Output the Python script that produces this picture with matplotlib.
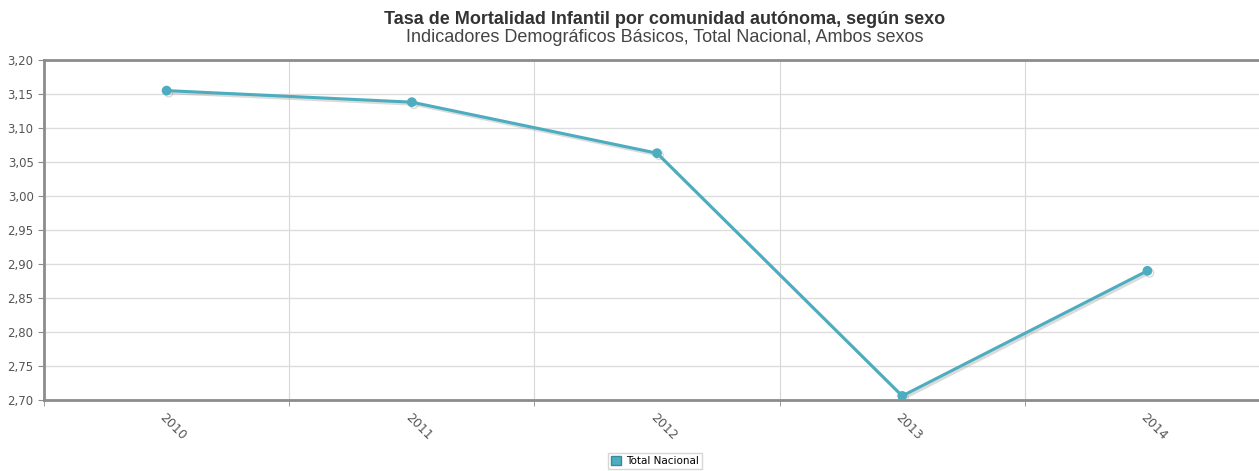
import numpy as np
import matplotlib.pyplot as plt
import matplotlib.patheffects as pe
from matplotlib.ticker import FixedLocator, FuncFormatter

# datos
years = ['2010', '2011', '2012', '2013', '2014']
total_nacional = [3.155, 3.138, 3.063, 2.706, 2.890]

line_color = '#4badbf'
axis_color = '#8c8c8c'

fig = plt.figure(figsize=(12.59, 4.71), dpi=100)
ax = fig.add_axes([44 / 1259, 1 - 400 / 471, 1226 / 1259, 340 / 471])

x = np.arange(len(years))
ax.plot(x, total_nacional, color=line_color, lw=2.2, marker='o', ms=6,
        zorder=3, path_effects=[pe.SimpleLineShadow(offset=(1.5, -1.5), shadow_color='#999999', alpha=0.35),
                                pe.Normal()])

ax.set_xlim(-0.5, len(years) - 0.5)
ax.set_ylim(2.70, 3.20)
ax.set_yticks(np.arange(2.70, 3.2001, 0.05))
ax.yaxis.set_major_formatter(FuncFormatter(lambda v, p: f'{v:.2f}'.replace('.', ',')))
ax.set_xticks(x)
ax.set_xticklabels(years, rotation=-45, ha='left', rotation_mode='anchor')
ax.xaxis.set_minor_locator(FixedLocator(np.arange(-0.5, len(years), 1)))

ax.grid(axis='y', color='#dddddd', lw=1)
ax.grid(axis='x', which='minor', color='#d8d8d8', lw=0.8)
ax.tick_params(axis='x', which='major', length=0, pad=8, labelsize=9, labelcolor='#555555')
ax.tick_params(axis='x', which='minor', length=4, color=axis_color)
ax.tick_params(axis='y', length=4, color=axis_color, labelsize=8.5, labelcolor='#555555')
ax.set_axisbelow(True)

for side in ['left', 'bottom', 'top']:
    ax.spines[side].set_color(axis_color)
    ax.spines[side].set_linewidth(2)
ax.spines['right'].set_visible(False)

fig.text(665 / 1259, 1 - 20 / 471, 'Tasa de Mortalidad Infantil por comunidad autónoma, según sexo',
         ha='center', va='center', fontsize=13, fontweight='bold', color='#333333',
         family='Liberation Sans')
fig.text(665 / 1259, 1 - 38 / 471, 'Indicadores Demográficos Básicos, Total Nacional, Ambos sexos',
         ha='center', va='center', fontsize=13, color='#444444', family='Liberation Sans')

h = plt.Rectangle((0, 0), 1, 1, facecolor=line_color, edgecolor='#3a8a99')
fig.legend([h], ['Total Nacional'], loc='center', bbox_to_anchor=(655 / 1259, 1 - 461 / 471),
           fontsize=7.5, frameon=True, edgecolor='#cccccc', fancybox=False,
           handlelength=1.0, handleheight=1.0, borderpad=0.3, handletextpad=0.5)

fig.savefig('out.png', dpi=100)
